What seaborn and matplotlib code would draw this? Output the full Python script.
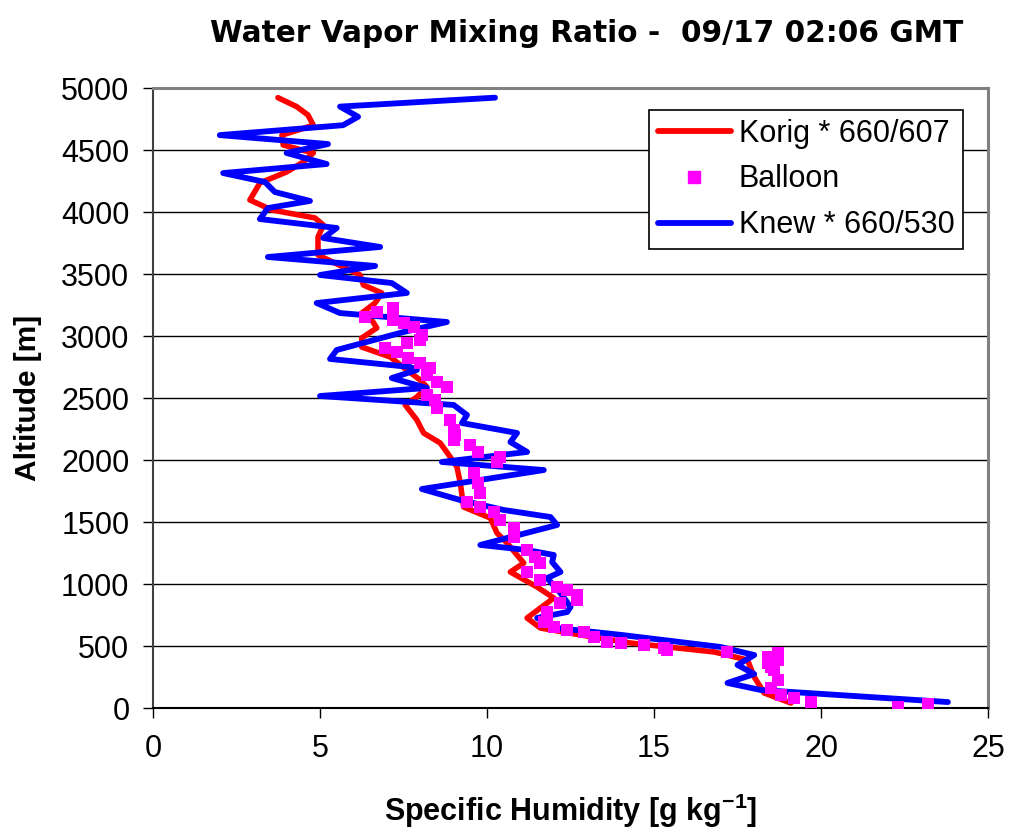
import matplotlib
matplotlib.use("Agg")
import matplotlib.pyplot as plt
import seaborn as sns
import pandas as pd
from matplotlib.lines import Line2D

# ---- data ----
knew_alt = [4922, 4850, 4768, 4700, 4620, 4548, 4476, 4387, 4314, 4242, 4161, 4089, 4032,
            3943, 3871, 3790, 3718, 3637, 3565, 3492, 3427, 3347, 3266, 3185, 3113, 3032,
            2887, 2815, 2750, 2726, 2661, 2581, 2516, 2444, 2363, 2298, 2218, 2145, 2065,
            1984, 1919, 1766, 1677, 1597, 1540, 1476, 1315, 1274, 1234, 1177, 1097, 1048,
            927, 815, 774, 726, 645, 590, 492, 427, 347, 274, 202, 145, 48]
knew_q = [10.24, 5.6, 6.14, 5.69, 2.0, 5.24, 4.0, 5.2, 2.1, 3.35, 3.65, 4.7, 3.44,
          3.2, 5.5, 5.1, 6.8, 3.44, 6.65, 5.0, 7.15, 7.6, 4.9, 5.6, 8.8, 7.5,
          5.5, 5.3, 7.7, 7.9, 7.15, 8.2, 5.0, 9.0, 9.4, 9.25, 10.9, 10.7, 11.2,
          8.65, 11.7, 8.05, 9.2, 10.5, 11.9, 12.1, 9.8, 11.2, 12.0, 11.95, 12.2, 11.8,
          12.2, 12.5, 12.4, 11.5, 12.1, 14.0, 17.0, 18.0, 17.5, 18.0, 17.2, 18.2, 23.8]

korig_alt = [4922, 4850, 4782, 4700, 4620, 4540, 4476, 4403, 4323, 4234, 4097, 4016, 3952,
             3895, 3798, 3653, 3492, 3411, 3347, 3266, 3185, 3129, 3065, 2984, 2911, 2831,
             2726, 2645, 2589, 2508, 2444, 2323, 2218, 2137, 2024, 1944, 1815, 1621, 1532,
             1411, 1331, 1169, 1097, 976, 887, 726, 645, 589, 524, 452, 387, 250, 121, 40]
korig_q = [3.74, 4.3, 4.64, 4.8, 3.86, 3.9, 4.8, 4.5, 4.0, 3.2, 2.9, 3.56, 4.85,
           5.1, 4.94, 4.94, 6.2, 6.3, 6.85, 6.65, 6.25, 6.55, 6.7, 6.25, 6.25, 7.1,
           7.6, 8.0, 8.2, 7.9, 7.55, 7.9, 8.1, 8.6, 8.9, 9.1, 9.2, 9.3, 10.1,
           10.3, 10.6, 11.1, 10.7, 11.5, 12.0, 11.2, 11.6, 12.8, 14.3, 16.8, 17.8, 18.0, 18.3, 19.1]

balloon_alt = [3156, 3191, 3226, 3129, 3103, 3073, 3008, 2968, 2943, 2903, 2871, 2823, 2782,
               2742, 2685, 2631, 2589, 2524, 2484, 2419, 2323, 2242, 2202, 2161, 2121, 2065,
               2024, 1984, 1895, 1815, 1734, 1661, 1621, 1581, 1516, 1452, 1379, 1274, 1218,
               1169, 1097, 1032, 976, 952, 911, 871, 847, 774, 710, 694, 653, 629, 613, 573,
               532, 524, 508, 484, 468, 452, 444, 411, 387, 363, 331, 306, 226, 161, 105,
               80, 48, 8, 32]
balloon_q = [6.35, 6.7, 7.19, 7.19, 7.5, 7.8, 8.05, 8.0, 7.6, 6.95, 7.3, 7.64, 8.0,
             8.3, 8.2, 8.5, 8.8, 8.2, 8.45, 8.5, 8.9, 9.0, 9.04, 9.0, 9.5, 9.73,
             10.4, 10.3, 9.6, 9.73, 9.8, 9.4, 9.8, 10.2, 10.4, 10.8, 10.8, 11.2, 11.45,
             11.6, 11.2, 11.6, 12.1, 12.4, 12.7, 12.7, 12.2, 11.8, 11.8, 11.7, 12.0, 12.4, 12.9, 13.2,
             13.6, 14.0, 14.7, 15.3, 15.4, 17.2, 18.7, 18.4, 18.7, 18.4, 18.5, 18.6, 18.7, 18.5, 18.8,
             19.2, 19.7, 22.3, 23.2]

labels = ["Korig * 660/607", "Balloon", "Knew * 660/530"]
title = "Water Vapor Mixing Ratio -  09/17 02:06 GMT"
xlabel = r"Specific Humidity [g kg$^{\mathbf{-1}}$]"
ylabel = "Altitude [m]"
xticks = [0, 5, 10, 15, 20, 25]
yticks = list(range(0, 5001, 500))

sns.set_theme(style="white")
plt.rcParams["font.family"] = ["Liberation Sans", "DejaVu Sans"]
plt.rcParams["mathtext.fontset"] = "custom"
plt.rcParams["mathtext.rm"] = "Liberation Sans"
plt.rcParams["mathtext.bf"] = "Liberation Sans:bold"
for k in ["text.color", "axes.labelcolor", "xtick.color", "ytick.color"]:
    plt.rcParams[k] = "black"

fig = plt.figure(figsize=(10.09, 8.32), dpi=100)
ax = fig.add_axes([153 / 1009, (832 - 708) / 832, (988 - 153) / 1009, (708 - 88) / 832])

df_o = pd.DataFrame({"q": korig_q, "alt": korig_alt})
df_n = pd.DataFrame({"q": knew_q, "alt": knew_alt})
df_b = pd.DataFrame({"q": balloon_q, "alt": balloon_alt})

sns.lineplot(data=df_o, x="q", y="alt", sort=False, estimator=None, color="#ff0000",
             linewidth=4, ax=ax, zorder=3)
sns.lineplot(data=df_n, x="q", y="alt", sort=False, estimator=None, color="#0000ff",
             linewidth=4.2, ax=ax, zorder=4)
sns.scatterplot(data=df_b, x="q", y="alt", marker="s", color="#ff00ff", s=75,
                linewidth=0, ax=ax, zorder=5)

ax.set_xlim(0, 25)
ax.set_ylim(0, 5000)
ax.set_xticks(xticks)
ax.set_yticks(yticks)
ax.set_xticklabels([str(v) for v in xticks], fontsize=22)
ax.set_yticklabels([str(v) for v in yticks], fontsize=22)
for y in yticks[1:]:
    ax.axhline(y, color="black", linewidth=1.0, zorder=1)

ax.tick_params(axis="both", which="major", direction="out", length=7, width=1,
               color="black", bottom=True, left=True)
ax.tick_params(axis="y", pad=10)
ax.tick_params(axis="x", pad=12)

for side in ["top", "right"]:
    ax.spines[side].set_color("#808080")
    ax.spines[side].set_linewidth(2.2)
ax.spines["left"].set_color("#404040")
ax.spines["left"].set_linewidth(1.5)
ax.spines["bottom"].set_color("black")
ax.spines["bottom"].set_linewidth(1.5)

ax.set_xlabel(xlabel, fontsize=22, fontweight="bold", labelpad=20)
ax.set_ylabel(ylabel, fontsize=21.5, fontweight="bold", labelpad=14)
fig.text(587 / 1009, 1 - 34 / 832, title, fontsize=21.3, fontweight="bold",
         family=["DejaVu Sans"], ha="center", va="center")

handles = [Line2D([], [], color="#ff0000", linewidth=4.2),
           Line2D([], [], color="#ff00ff", marker="s", linestyle="none", markersize=8),
           Line2D([], [], color="#0000ff", linewidth=4.2)]
leg = ax.legend(handles, labels, loc="upper right",
                bbox_to_anchor=((963 - 153) / 835, (708 - 110) / 620),
                fontsize=22, frameon=True, fancybox=False, framealpha=1, edgecolor="black",
                handlelength=2.4, handletextpad=0.25, borderpad=0.28, labelspacing=0.52,
                borderaxespad=0)
leg.get_frame().set_linewidth(1.2)

fig.savefig("out.png", dpi=100)
